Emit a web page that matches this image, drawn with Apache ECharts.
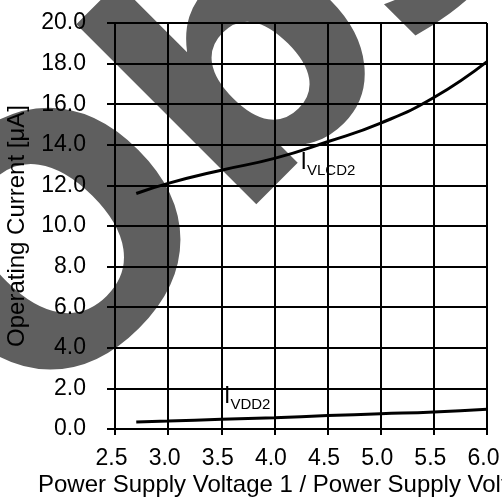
<!DOCTYPE html>
<html>
<head>
<meta charset="utf-8">
<script src="https://cdn.jsdelivr.net/npm/echarts@6/dist/echarts.min.js"></script>
<style>html,body{margin:0;padding:0;background:#fff}#c{width:502px;height:501px}</style>
</head>
<body>
<div id="c"></div>
<script>
// Data
var voltage = [2.7, 3.0, 3.5, 4.0, 4.5, 5.0, 5.5, 6.0];
var iVLCD2 = [11.6, 12.1, 12.75, 13.33, 14.15, 15.07, 16.33, 18.1];
var iVDD2 = [0.34, 0.39, 0.48, 0.56, 0.66, 0.75, 0.84, 0.97];
var seriesNames = ['VLCD2', 'VDD2'];
var labelAnchors = [[4.245, 13.13], [3.525, 1.6]];
var xTicks = {min: 2.5, max: 6.0, step: 0.5};
var yTicks = {min: 0, max: 20, step: 2};
var xName = 'Power Supply Voltage 1 / Power Supply Voltage 2 [V]';
var yName = 'Operating Current [\u03bcA]';
var watermark = 'Obsolete';

var FONT = '"Liberation Sans", Arial, sans-serif';
function pairs(xs, ys) { return xs.map(function (x, i) { return [x, ys[i]]; }); }

var chart = echarts.init(document.getElementById('c'), null, {renderer: 'canvas'});
var lineStyle = {color: '#000', width: 2};
var option = {
  animation: false,
  backgroundColor: '#fff',
  grid: {left: 115, right: 15, top: 23, bottom: 72, containLabel: false, outerBoundsMode: 'none'},
  xAxis: {
    type: 'value', min: xTicks.min, max: xTicks.max, interval: xTicks.step,
    name: xName, nameLocation: 'start', nameGap: 77,
    nameTextStyle: {fontFamily: FONT, fontSize: 24, color: '#000', align: 'left',
      verticalAlign: 'top', padding: [44, 0, 0, 0]},
    axisLine: {show: true, lineStyle: lineStyle},
    axisTick: {show: true, inside: false, length: 6, lineStyle: lineStyle},
    axisLabel: {fontFamily: FONT, fontSize: 23, color: '#000', margin: 18, padding: [0, 7, 0, 0],
      formatter: function (v) { return v.toFixed(1); }},
    splitLine: {show: true, lineStyle: lineStyle}
  },
  yAxis: {
    type: 'value', min: yTicks.min, max: yTicks.max, interval: yTicks.step,
    name: yName, nameLocation: 'middle', nameGap: 86, nameRotate: 90,
    nameTextStyle: {fontFamily: FONT, fontSize: 24, color: '#000'},
    axisLine: {show: true, lineStyle: lineStyle},
    axisTick: {show: true, inside: false, length: 8, lineStyle: lineStyle},
    axisLabel: {fontFamily: FONT, fontSize: 23, color: '#000', margin: 29,
      formatter: function (v) { return v.toFixed(1); }},
    splitLine: {show: true, lineStyle: lineStyle}
  },
  series: [
    {type: 'line', name: seriesNames[0], data: pairs(voltage, iVLCD2), smooth: true,
     showSymbol: false, symbol: 'none', lineStyle: {color: '#000', width: 3}, z: 5},
    {type: 'line', name: seriesNames[1], data: pairs(voltage, iVDD2), smooth: true,
     showSymbol: false, symbol: 'none', lineStyle: {color: '#000', width: 3}, z: 5}
  ],
  graphic: [{
    type: 'text', id: 'wm', x: -26.5, y: 364, rotation: Math.PI / 4, z: -100, zlevel: 0,
    silent: true,
    style: {text: watermark, font: 'bold 335px "DejaVu Sans"', fill: '#5f5f5f',
            align: 'left', verticalAlign: 'middle'}
  }]
};
chart.setOption(option);

var g = [];
labelAnchors.forEach(function (a, i) {
  var p = chart.convertToPixel({gridIndex: 0}, a);
  g.push({type: 'text', x: p[0], y: p[1], z: 10,
    style: {text: 'I', font: '23px ' + FONT, fill: '#000', align: 'left', verticalAlign: 'middle'}});
  g.push({type: 'text', x: p[0] + 6.5, y: p[1] + 8, z: 10,
    style: {text: seriesNames[i], font: '15px ' + FONT, fill: '#000', align: 'left', verticalAlign: 'middle'}});
});
chart.setOption({graphic: option.graphic.concat(g)});
</script>
</body>
</html>
